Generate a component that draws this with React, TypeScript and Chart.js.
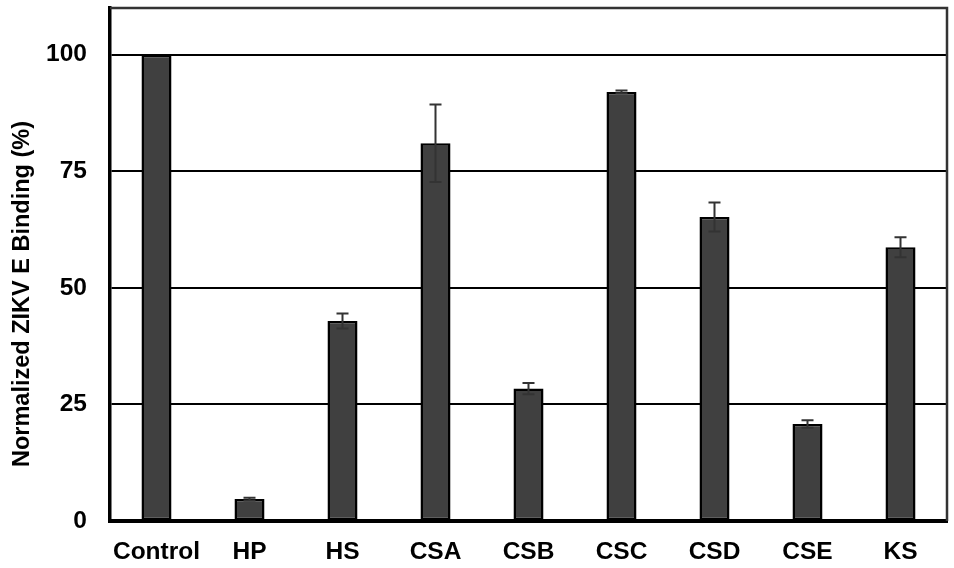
import React, { useEffect, useRef } from "react";
import { Chart, registerables } from "chart.js";

Chart.register(...registerables);

const categories = ["Control", "HP", "HS", "CSA", "CSB", "CSC", "CSD", "CSE", "KS"];
const values = [100, 4.7, 42.9, 81.0, 28.4, 92.0, 65.2, 20.8, 58.7];
const errors = [0, 0.3, 1.6, 8.3, 1.2, 0.3, 3.1, 0.8, 2.15];
const yTicks = [0, 25, 50, 75, 100];
const yTitle = "Normalized ZIKV E Binding (%)";

const FONT = "'Liberation Sans', Arial, sans-serif";

const errorBarPlugin = {
  id: "errorBars",
  afterDatasetsDraw(chart: any) {
    const ctx = chart.ctx;
    const meta = chart.getDatasetMeta(0);
    const y = chart.scales.y;
    ctx.save();
    ctx.strokeStyle = "#333333";
    ctx.lineWidth = 2;
    meta.data.forEach((bar: any, i: number) => {
      const e = errors[i];
      if (!e) return;
      const v = values[i];
      const top = y.getPixelForValue(v + e);
      const bot = y.getPixelForValue(v - e);
      const x = bar.x;
      const hw = 6;
      ctx.beginPath();
      ctx.moveTo(x, top);
      ctx.lineTo(x, bot);
      ctx.moveTo(x - hw, top);
      ctx.lineTo(x + hw, top);
      ctx.moveTo(x - hw, bot);
      ctx.lineTo(x + hw, bot);
      ctx.stroke();
    });
    ctx.restore();
  },
};

const framePlugin = {
  id: "frame",
  afterDraw(chart: any) {
    const { ctx, chartArea } = chart;
    ctx.save();
    ctx.strokeStyle = "#333333";
    ctx.lineWidth = 2.5;
    ctx.beginPath();
    ctx.moveTo(chartArea.left, chartArea.top);
    ctx.lineTo(chartArea.right, chartArea.top);
    ctx.lineTo(chartArea.right, chartArea.bottom);
    ctx.stroke();
    // y title
    ctx.fillStyle = "#000";
    ctx.font = `bold 23.5px ${FONT}`;
    ctx.textAlign = "center";
    ctx.textBaseline = "middle";
    ctx.translate(23, 294);
    ctx.rotate(-Math.PI / 2);
    ctx.fillText(yTitle, 0, 0);
    ctx.restore();
  },
};

export default function App() {
  const ref = useRef<HTMLCanvasElement>(null);
  useEffect(() => {
    if (!ref.current) return;
    const chart = new Chart(ref.current, {
      type: "bar",
      data: {
        labels: categories,
        datasets: [
          {
            data: values,
            backgroundColor: "#404040",
            borderColor: "#000000",
            borderWidth: 2.5,
            borderSkipped: false,
            barPercentage: 0.323,
            categoryPercentage: 1,
          },
        ],
      },
      options: {
        animation: false,
        responsive: true,
        maintainAspectRatio: false,
        layout: { padding: { top: 8, right: 7, left: 0, bottom: 0 } },
        plugins: {
          legend: { display: false },
          tooltip: { enabled: false },
        },
        scales: {
          x: {
            grid: { display: false, drawTicks: false },
            border: { display: true, color: "#000", width: 4 },
            ticks: {
              color: "#000",
              font: { family: FONT, size: 24.5, weight: "bold" },
              padding: 17,
              maxRotation: 0,
            },
            afterFit(scale: any) {
              scale.height = 47;
              scale.paddingLeft = 0;
              scale.paddingRight = 0;
            },
          },
          y: {
            min: 0,
            max: 110,
            afterBuildTicks(scale: any) {
              scale.ticks = yTicks.map((v) => ({ value: v }));
            },
            grid: { color: "#000", lineWidth: 2, drawTicks: false },
            border: { display: true, color: "#000", width: 3.5 },
            ticks: {
              color: "#000",
              font: { family: FONT, size: 24.5, weight: "bold" },
              padding: 23,
            },
            afterFit(scale: any) {
              scale.width = 110;
              scale.paddingTop = 0;
              scale.paddingBottom = 0;
            },
          },
        },
      },
      plugins: [errorBarPlugin, framePlugin],
    });
    return () => chart.destroy();
  }, []);
  return (
    <div style={{ position: "fixed", left: 0, top: 0, width: 954, height: 568, background: "#fff" }}>
      <canvas ref={ref} />
    </div>
  );
}
